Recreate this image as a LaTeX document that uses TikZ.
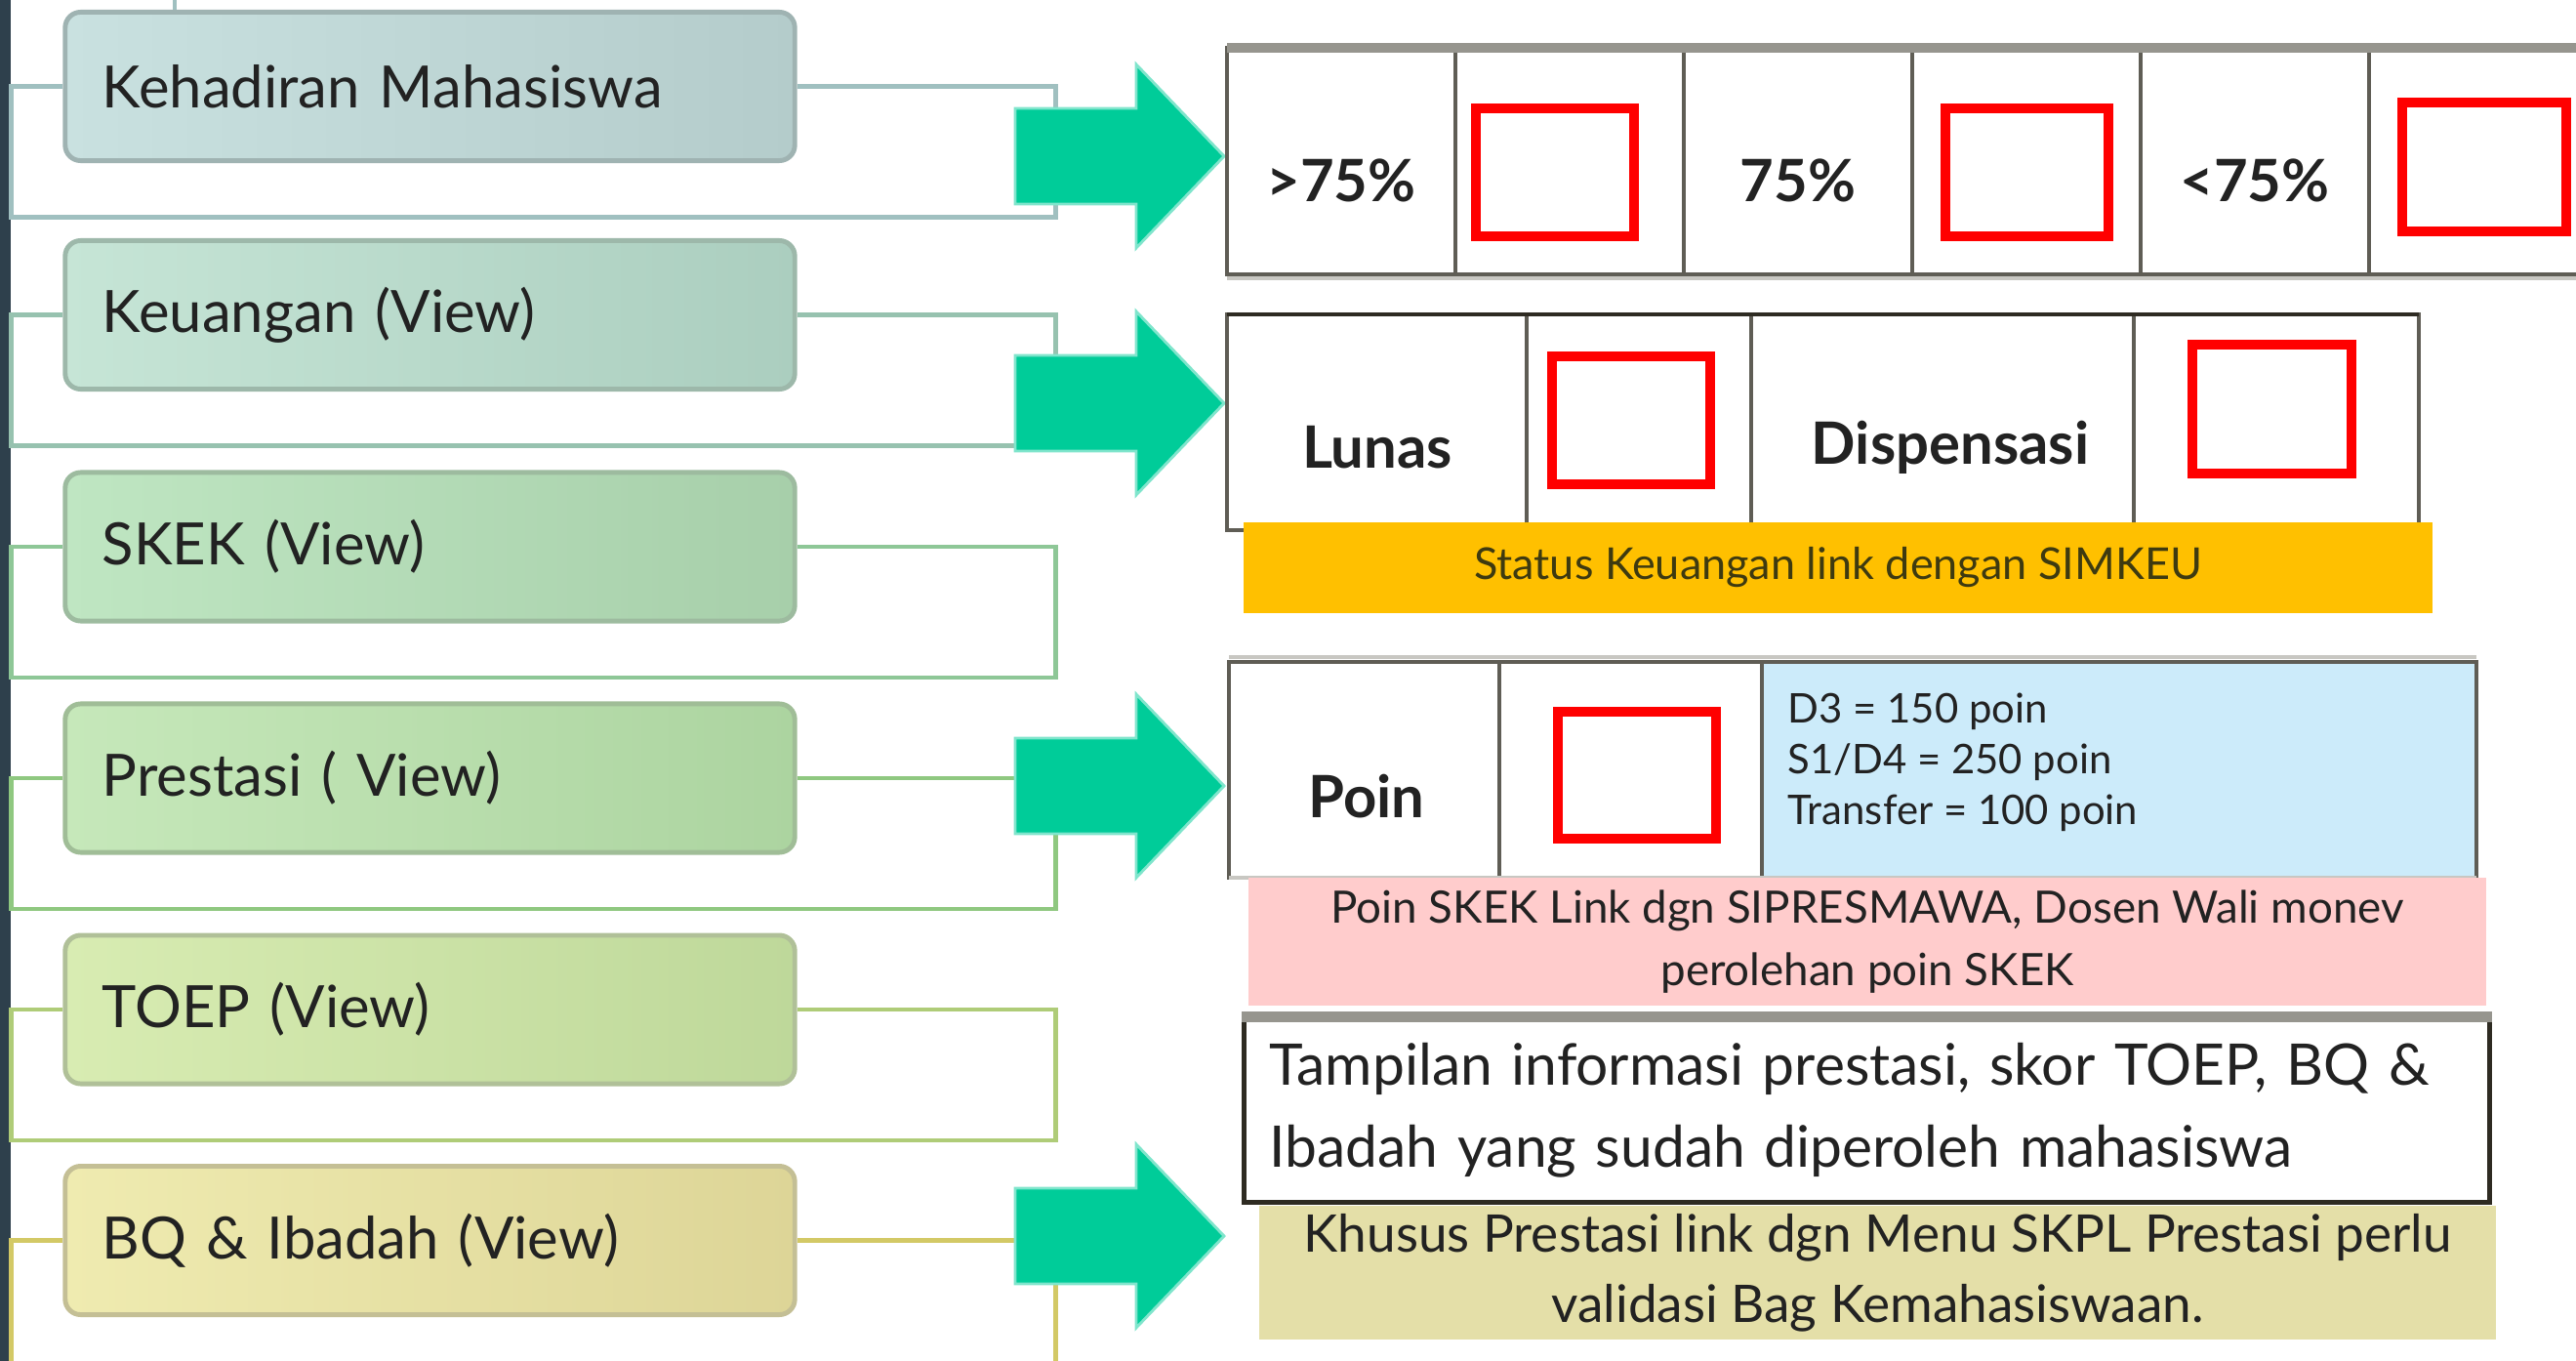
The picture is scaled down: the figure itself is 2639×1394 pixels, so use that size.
\documentclass[tikz,border=0pt]{standalone}
\usepackage{fontspec}
\setmainfont{Lato}

\definecolor{leftbar}{HTML}{2E404C}
\definecolor{ink}{HTML}{222222}
\definecolor{goldink}{HTML}{3E3A10}
% menu boxes: left, right, border, bracket
\definecolor{kehL}{HTML}{C9E1E0}\definecolor{kehR}{HTML}{B4CCCB}\definecolor{kehB}{HTML}{9FB3B2}\definecolor{bk1}{HTML}{A0C0C0}
\definecolor{keuL}{HTML}{C6E5D6}\definecolor{keuR}{HTML}{ABCEBF}\definecolor{keuB}{HTML}{9DB8AA}\definecolor{bk2}{HTML}{97C2AF}
\definecolor{skeL}{HTML}{BFE6C2}\definecolor{skeR}{HTML}{A7CFAA}\definecolor{skeB}{HTML}{9DBB9F}\definecolor{bk3}{HTML}{8EC797}
\definecolor{preL}{HTML}{C6E8BA}\definecolor{preR}{HTML}{ACD4A0}\definecolor{preB}{HTML}{A0BD97}\definecolor{bk4}{HTML}{8FC880}
\definecolor{toeL}{HTML}{D8ECB2}\definecolor{toeR}{HTML}{BED89A}\definecolor{toeB}{HTML}{B0C098}\definecolor{bk5}{HTML}{AFCC78}
\definecolor{bqiL}{HTML}{EFEBB0}\definecolor{bqiR}{HTML}{DDD597}\definecolor{bqiB}{HTML}{C4BF95}\definecolor{bk6}{HTML}{D3C966}
% right side
\definecolor{arrowgreen}{HTML}{00CC99}
\definecolor{arrowedge}{HTML}{80E5CC}
\definecolor{tabgray}{HTML}{96958E}
\definecolor{tabdark}{HTML}{5F5D55}
\definecolor{tabblack}{HTML}{2E2B22}
\definecolor{tabbase}{HTML}{C8C7C2}
\definecolor{notegold}{HTML}{FFC000}
\definecolor{notepink}{HTML}{FFCCCC}
\definecolor{noteolive}{HTML}{E4DFA8}
\definecolor{sky}{HTML}{CCEBFA}

\begin{document}
\begin{tikzpicture}[x=0.01cm, y=-0.01cm,
    menu/.style n args={3}{draw=#3, line width=1.4pt, rounded corners=4.5pt,
      left color=#1, right color=#2, minimum width=7.47cm, minimum height=1.52cm,
      text width=6.71cm, inner xsep=0pt, align=left, text=ink,
      font=\fontsize{17}{20}\selectfont},
    brk/.style={line width=1.4pt},
    garrow/.style={fill=arrowgreen, draw=arrowedge, line width=0.8pt},
    tab/.style={draw=tabdark, line width=1.4pt},
    tabtop/.style={draw=tabgray, line width=3pt},
    chk/.style={draw=red, line width=2.8pt},
    head/.style={font=\fontsize{17}{20}\selectfont\bfseries, text=ink},
    note/.style={inner sep=0pt, align=center, text=ink},
  ]
  \useasboundingbox (0,0) rectangle (2639,1394);
  \clip (0,0) rectangle (2639,1394);
  \fill[leftbar] (0,0) rectangle (11,1394);

  % menu
  \node[menu={kehL}{kehR}{kehB}] (kehadiran) at (440.5,88.5) {Kehadiran Mahasiswa};
  \node[menu={keuL}{keuR}{keuB}] (keuangan) at (440.5,322.5) {Keuangan (View)};
  \node[menu={skeL}{skeR}{skeB}] (skek) at (440.5,560) {SKEK (View)};
  \node[menu={preL}{preR}{preB}] (prestasi) at (440.5,797) {Prestasi ( View)};
  \node[menu={toeL}{toeR}{toeB}] (toep) at (440.5,1034) {TOEP (View)};
  \node[menu={bqiL}{bqiR}{bqiB}] (bq) at (440.5,1270.5) {BQ \& Ibadah (View)};

  \coordinate (root) at (179,0);
  \draw[brk, draw=bk1] (root) -- (root |- kehadiran.north);
  \foreach \n/\c in {kehadiran/bk1, keuangan/bk2, skek/bk3, prestasi/bk4, toep/bk5, bq/bk6}
    \draw[brk, draw=\c] (\n.west) -| ++(-53,134) -| ++(1070,-134) -- (\n.east);

  % arrows
  \foreach \y in {160,413,805,1266}
    \filldraw[garrow] (1040,\y) ++(0,-49) -- ++(124,0) -- ++(0,-45) -- ++(90,94)
      -- ++(-90,94) -- ++(0,-45) -- ++(-124,0) -- cycle;

  % kehadiran
  \draw[tab] (1257,49) rectangle (2661,281);
  \foreach \x in {1491,1725,1959,2193,2427}
    \draw[tab] (\x,49) -- (\x,281);
  \draw[tabtop] (1257,49) -- (2661,49);
  \draw[brk, draw=tabbase] (1257,285) -- (2661,285);
  \node[head] (over) at (1374,185) {>75\%};
  \node[head] (equal) at (1842,185) {75\%};
  \node[head] (under) at (2310,185) {<75\%};
  \draw[chk] (1512,111) rectangle (1674,242);
  \draw[chk] (1993,111) rectangle (2160,242);
  \draw[chk] (2461,105) rectangle (2629,237);

  % keuangan
  \draw[tab] (1257,322) rectangle (2478,543);
  \foreach \x in {1564,1794,2186}
    \draw[tab] (\x,322) -- (\x,543);
  \draw[brk, draw=tabblack] (1257,322) -- (2478,322);
  \node[head] (lunas) at (1411,458) {Lunas};
  \node[head] (dispen) at (1998,458) {Dispensasi};
  \draw[chk] (1590,365) rectangle (1752,496);
  \draw[chk] (2246,353) rectangle (2409,485);
  \node[note, fill=notegold, minimum width=12.18cm, minimum height=0.93cm,
    font=\fontsize{12.8}{15}\selectfont, text=goldink] (simkeu) at (1883,581.5)
    {Status Keuangan link dengan SIMKEU};

  % poin skek
  \fill[sky] (1805,678) rectangle (2537,899);
  \draw[brk, draw=tabbase] (1259,673) -- (2537,673);
  \draw[tab] (1259,678) rectangle (2537,899);
  \foreach \x in {1536,1805}
    \draw[tab] (\x,678) -- (\x,899);
  \draw[brk, draw=tabbase] (1259,899) -- (2537,899);
  \node[head] (poin) at (1400,816) {Poin};
  \draw[chk] (1596,729) rectangle (1758,859);
  \node[anchor=west, align=left, inner sep=0pt, text=ink,
    font=\fontsize{11.9}{14.8}\selectfont] (rules) at (1831,781)
    {D3 = 150 poin\\S1/D4 = 250 poin\\Transfer = 100 poin};
  \node[note, fill=notepink, minimum width=12.68cm, minimum height=1.31cm,
    font=\fontsize{13}{18.2}\selectfont] (skekpoin) at (1913,964.5)
    {Poin SKEK Link dgn SIPRESMAWA, Dosen Wali monev\\perolehan poin SKEK};

  % prestasi, toep, bq
  \node[draw=tabblack, line width=1.4pt, fill=white, minimum width=12.75cm,
    minimum height=1.87cm, text width=12.23cm, inner xsep=0pt, align=left,
    text=ink, font=\fontsize{16.7}{23.9}\selectfont] (info) at (1912.5,1137.5)
    {Tampilan informasi prestasi, skor TOEP, BQ \&\\Ibadah yang sudah diperoleh mahasiswa};
  \draw[tabtop] (info.north west) -- (info.north east);
  \node[note, fill=noteolive, minimum width=12.67cm, minimum height=1.37cm,
    font=\fontsize{15.1}{20.5}\selectfont] (khusus) at (1923.5,1303.5)
    {Khusus Prestasi link dgn Menu SKPL Prestasi perlu\\validasi Bag Kemahasiswaan.};
\end{tikzpicture}
\end{document}
